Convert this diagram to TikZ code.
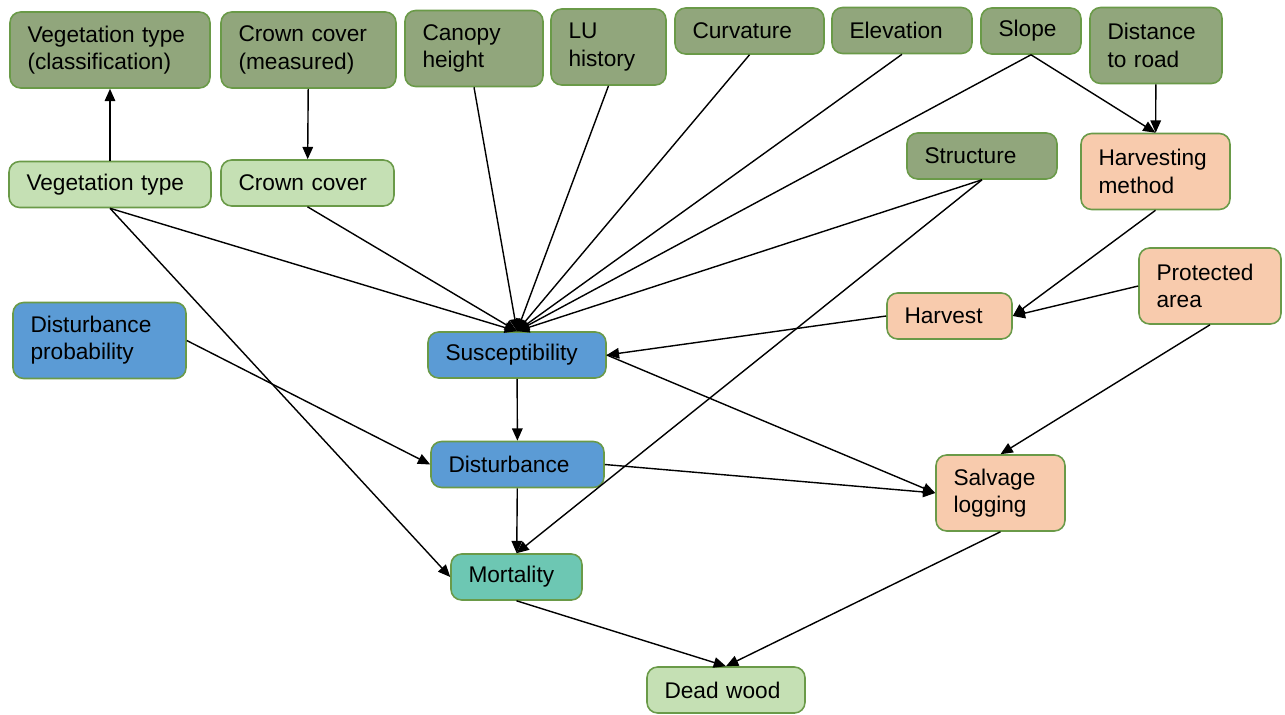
\documentclass[tikz,border=0pt]{standalone}
\usepackage{fontspec}
\setmainfont{Liberation Sans}
\usepackage{xcolor}
\usepackage{tikz}
\usetikzlibrary{arrows.meta,positioning}
\definecolor{obsfill}{HTML}{91A67C}
\definecolor{latfill}{HTML}{C5E0B4}
\definecolor{procfill}{HTML}{5B9BD5}
\definecolor{mgmtfill}{HTML}{F8CBAD}
\definecolor{mortfill}{HTML}{6DC7B3}
\definecolor{edgegreen}{HTML}{6A9A48}

\begin{document}
\begin{tikzpicture}[x=0.02cm, y=-0.02cm,
  box/.style={rectangle, rounded corners=6pt, draw=edgegreen, line width=0.9pt,
    inner xsep=0.35cm, inner ysep=2pt, align=left,
    font=\fontsize{12.9}{15.5}\selectfont},
  obsbox/.style={box, fill=obsfill},
  latbox/.style={box, fill=latfill},
  procbox/.style={box, fill=procfill},
  mgmtbox/.style={box, fill=mgmtfill},
  mortbox/.style={box, fill=mortfill},
  lowbox/.style={minimum height=0.92cm},
  tallbox/.style={minimum height=1.52cm},
  link/.style={-{Triangle[length=7pt,width=6pt]}, line width=0.8pt}]
\useasboundingbox (0,0) rectangle (1285,714);

% --- Observed data (top row) ---
\node[obsbox, tallbox, text width=3.3cm] (vegclass) at (110,50) {Vegetation type\\(classification)};
\node[obsbox, tallbox, text width=2.8cm] (crownmeas) at (308.5,50) {Crown cover\\(measured)};
\node[obsbox, tallbox, text width=2.06cm] (canopy) at (474,48.5) {Canopy\\height};
\node[obsbox, tallbox, text width=1.6cm] (luhist) at (608.5,47) {LU\\history};
\node[obsbox, lowbox, text width=2.28cm] (curv) at (749.5,31) {Curvature};
\node[obsbox, lowbox, text width=2.1cm] (elev) at (902,30.5) {Elevation};
\node[obsbox, lowbox, text width=1.3cm] (slope) at (1031,31) {Slope};
\node[obsbox, tallbox, text width=1.94cm] (distroad) at (1156,45.5) {Distance\\to road};

% --- Second row ---
\node[latbox, lowbox, text width=3.34cm] (vegtype) at (110,184.5) {Vegetation type};
\node[latbox, lowbox, text width=2.76cm] (crown) at (307.5,183) {Crown cover};
\node[obsbox, lowbox, text width=2.3cm] (struct) at (982,156) {Structure};
\node[mgmtbox, tallbox, text width=2.28cm] (harvmeth) at (1155.5,171.5) {Harvesting\\method};

% --- Disturbance chain ---
\node[procbox, tallbox, text width=2.76cm] (distprob) at (99.5,340.5) {Disturbance\\probability};
\node[procbox, lowbox, text width=2.86cm] (susc) at (517,355) {Susceptibility};
\node[mgmtbox, lowbox, text width=1.8cm] (harvest) at (949.5,316) {Harvest};
\node[mgmtbox, tallbox, text width=2.14cm] (protect) at (1210,286) {Protected\\area};
\node[procbox, lowbox, text width=2.76cm] (dist) at (517.5,464.5) {Disturbance};
\node[mgmtbox, tallbox, text width=1.88cm] (salvage) at (1000.5,493) {Salvage\\logging};
\node[mortbox, lowbox, text width=1.92cm] (mort) at (516.5,577) {Mortality};
\node[latbox, lowbox, text width=2.46cm] (dead) at (726,690) {Dead wood};

% Measurements
\draw[link] (vegtype) -- (vegclass);
\draw[link] (crownmeas) -- (crown);

% Drivers of susceptibility
\foreach \src in {vegtype, crown, canopy, luhist, curv, elev, slope, struct}
  \draw[link] (\src.south) -- (susc.north);

% Harvesting
\draw[link] (slope.south) -- (harvmeth.north);
\draw[link] (distroad) -- (harvmeth);
\draw[link] (harvmeth.south) -- (harvest.east);
\draw[link] (protect.west) -- (harvest.east);
\draw[link] (harvest.west) -- (susc.east);
\draw[link] (protect.south) -- (salvage.north);

% Disturbance and mortality
\draw[link] (susc) -- (dist);
\draw[link] (distprob.east) -- (dist.west);
\draw[link] (dist.east) -- (salvage.west);
\draw[link] (susc.east) -- (salvage.west);
\draw[link] (dist) -- (mort);
\draw[link] (vegtype.south) -- (mort.west);
\draw[link] (struct.south) -- (mort.north);

% Dead wood
\draw[link] (mort.south) -- (dead.north);
\draw[link] (salvage.south) -- (dead.north);
\end{tikzpicture}
\end{document}
